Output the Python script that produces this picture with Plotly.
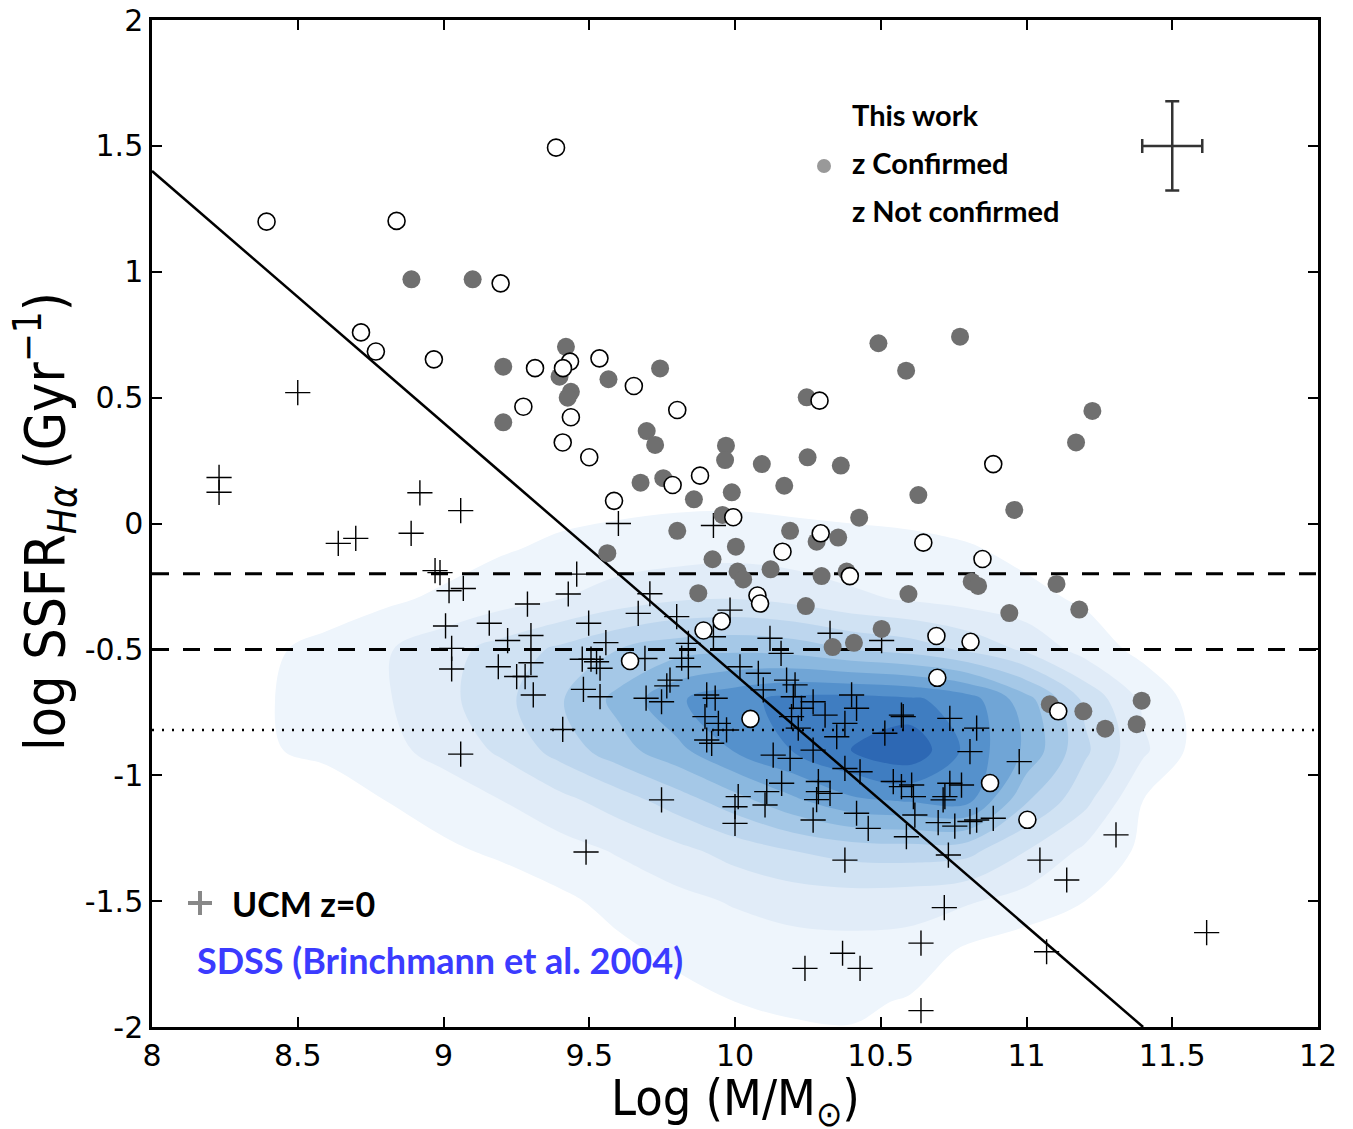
import plotly.graph_objects as go

# ---------------- data ----------------
# "This work" - redshift confirmed (filled grey circles)
conf_x = [8.89, 9.10, 9.205, 9.205, 9.42, 9.398, 9.437, 9.426, 9.566, 9.743,
          9.697, 9.726, 9.969, 9.966, 10.092, 10.249, 10.363, 10.246, 9.676, 9.754,
          9.859, 9.989, 10.169, 9.957, 9.802, 10.189, 10.280, 10.354, 10.003, 9.562,
          9.923, 10.122, 10.009, 10.028, 10.297, 10.383, 9.874, 10.492, 10.772, 10.587,
          11.226, 11.170, 10.629, 10.958, 10.426, 10.812, 10.834, 11.103, 10.243, 10.941,
          11.181, 10.503, 10.335, 10.408, 11.080, 11.195, 11.270, 11.378, 11.395, 10.595]
conf_y = [0.97, 0.97, 0.623, 0.402, 0.702, 0.583, 0.523, 0.500, 0.573, 0.616,
          0.367, 0.312, 0.309, 0.252, 0.236, 0.263, 0.230, 0.501, 0.162, 0.180,
          0.096, 0.124, 0.150, 0.034, -0.029, -0.029, -0.072, -0.056, -0.092, -0.118,
          -0.142, -0.182, -0.191, -0.222, -0.209, -0.191, -0.277, 0.716, 0.742, 0.607,
          0.447, 0.322, 0.113, 0.054, 0.023, -0.231, -0.248, -0.240, -0.328, -0.356,
          -0.342, -0.419, -0.491, -0.474, -0.718, -0.746, -0.815, -0.797, -0.704, -0.280]

# "This work" - redshift not confirmed (open circles)
nconf_x = [8.393, 8.839, 9.386, 9.196, 8.717, 8.768, 8.967, 9.314, 9.434, 9.41,
           9.535, 9.653, 9.274, 9.437, 9.409, 9.500, 9.802, 10.290, 9.786, 9.880,
           9.585, 9.994, 10.294, 10.163, 10.077, 10.086, 10.646, 10.849, 10.394, 10.886,
           9.954, 9.892, 10.691, 10.808, 10.694, 11.109, 10.053, 10.875, 11.003, 9.640]
nconf_y = [1.199, 1.202, 1.493, 0.954, 0.759, 0.683, 0.652, 0.617, 0.643, 0.617,
           0.656, 0.546, 0.464, 0.422, 0.322, 0.263, 0.451, 0.488, 0.153, 0.190,
           0.090, 0.025, -0.039, -0.112, -0.286, -0.318, -0.076, -0.141, -0.209, 0.236,
           -0.388, -0.425, -0.447, -0.470, -0.613, -0.746, -0.776, -1.031, -1.177, -0.546]

# UCM z=0 (crosses)
ucm_x = [8.500, 8.230, 8.230, 8.919, 9.059, 8.639, 8.699, 8.889, 8.971, 8.988,
         9.600, 9.926, 9.457, 9.019, 9.068, 9.428, 9.288, 9.708, 9.668, 9.800,
         9.983, 9.007, 9.157, 9.498, 9.300, 9.220, 9.557, 9.840, 9.926, 10.120,
         10.326, 10.503, 10.158, 9.028, 9.028, 9.188, 9.300, 9.251, 9.280, 9.308,
         9.476, 9.506, 9.525, 9.537, 9.480, 9.537, 9.691, 9.695, 9.409, 9.059,
         9.817, 9.840, 10.017, 10.080, 10.177, 10.206, 9.777, 9.766, 9.748, 9.903,
         9.932, 10.097, 10.200, 10.228, 10.268, 10.309, 10.400, 10.417, 9.897, 9.943,
         9.971, 9.903, 9.920, 10.194, 10.217, 10.377, 10.349, 10.268, 10.131, 10.189,
         10.514, 10.571, 10.577, 10.737, 10.829, 10.806, 10.975, 10.377, 10.429, 10.160,
         10.286, 10.286, 10.326, 10.280, 10.109, 10.103, 10.011, 10.000, 10.000, 9.748,
         10.543, 10.571, 10.606, 10.612, 10.720, 10.714, 10.737, 10.777, 10.268, 10.417,
         10.457, 10.617, 10.697, 10.754, 10.806, 10.829, 10.886, 10.588, 10.377, 10.732,
         11.046, 11.138, 11.307, 10.718, 10.638, 10.369, 10.429, 10.240, 11.069, 11.618,
         10.638, 9.489]
ucm_y = [0.520, 0.183, 0.124, 0.122, 0.051, -0.079, -0.059, -0.039, -0.187, -0.195,
         0.000, -0.008, -0.201, -0.267, -0.258, -0.280, -0.320, -0.279, -0.357, -0.370,
         -0.344, -0.407, -0.396, -0.396, -0.445, -0.465, -0.473, -0.476, -0.450, -0.456,
         -0.436, -0.465, -0.516, -0.496, -0.578, -0.569, -0.553, -0.608, -0.608, -0.681,
         -0.539, -0.539, -0.549, -0.575, -0.659, -0.688, -0.536, -0.694, -0.818, -0.916,
         -0.535, -0.569, -0.569, -0.595, -0.622, -0.641, -0.622, -0.645, -0.708, -0.681,
         -0.694, -0.661, -0.688, -0.734, -0.708, -0.761, -0.681, -0.734, -0.767, -0.794,
         -0.820, -0.860, -0.873, -0.767, -0.813, -0.794, -0.847, -0.900, -0.920, -0.933,
         -0.833, -0.761, -0.767, -0.774, -0.813, -0.906, -0.946, -0.973, -0.986, -1.032,
         -1.025, -1.065, -1.072, -1.097, -1.065, -1.118, -1.085, -1.125, -1.191, -1.098,
         -1.025, -1.045, -1.039, -1.085, -1.085, -1.098, -1.032, -1.039, -1.178, -1.151,
         -1.211, -1.158, -1.188, -1.202, -1.184, -1.178, -1.171, -1.244, -1.337, -1.317,
         -1.337, -1.416, -1.237, -1.526, -1.667, -1.707, -1.767, -1.767, -1.701, -1.625,
         -1.935, -1.305]

# SDSS density (contour level on a coarse grid)
sdss_x = [8.2, 8.4, 8.6, 8.8, 9.0, 9.2, 9.4, 9.6, 9.8, 10.0,
          10.2, 10.4, 10.6, 10.8, 11.0, 11.2, 11.4, 11.6, 11.8]
sdss_y = [-2.1, -1.9, -1.7, -1.5, -1.3, -1.1, -0.9, -0.7, -0.5, -0.3, -0.1, 0.1]
sdss_level = [
    [0, 0, 0, 0, 0, 0, 0, 0, 0.2, 0.5, 0.7, 0.75, 0.4, 0.1, 0, 0, 0, 0, 0],
    [0, 0, 0, 0, 0, 0, 0, 0.2, 0.7, 1.0, 1.15, 1.2, 0.9, 0.4, 0, 0, 0, 0, 0],
    [0, 0, 0, 0, 0, 0, 0.3, 0.8, 1.2, 1.4, 1.6, 1.65, 1.6, 0.8, 0.4, 0, 0, 0, 0],
    [0, 0, 0, 0, 0, 0.3, 0.8, 1.3, 1.7, 2.1, 2.4, 2.5, 2.4, 2.1, 1.6, 1.0, 0.4, 0, 0],
    [0, 0, 0, 0.3, 0.8, 1.2, 1.6, 2.1, 2.7, 3.4, 4.0, 4.4, 4.5, 4.3, 3.0, 1.8, 0.8, 0.2, 0],
    [0, 0, 0.3, 1.0, 1.5, 2.0, 2.7, 3.5, 4.5, 5.6, 6.8, 7.8, 8.1, 8.3, 5.1, 3.3, 1.0, 0.3, 0],
    [0.3, 0.9, 1.3, 1.75, 2.3, 3.2, 4.4, 5.6, 6.7, 8.1, 9.05, 10.05, 10.8, 8.7, 6.8, 4.2, 2.2, 0.5, 0],
    [0.3, 0.95, 1.4, 1.9, 2.7, 3.7, 4.9, 6.3, 7.85, 8.7, 9.3, 9.4, 9.2, 8.5, 6.4, 3.8, 1.8, 0.5, 0],
    [0.2, 0.8, 1.4, 1.9, 2.6, 3.4, 4.2, 5.0, 5.6, 5.8, 5.6, 5.0, 4.6, 3.8, 2.8, 1.6, 0.7, 0.2, 0],
    [0, 0, 0.3, 0.8, 1.2, 1.6, 2.0, 2.5, 2.9, 3.0, 2.7, 2.2, 1.9, 1.6, 1.3, 0.85, 0.1, 0, 0],
    [0, 0, 0, 0.2, 0.5, 0.9, 1.2, 1.4, 1.5, 1.6, 1.5, 1.4, 1.3, 1.1, 0.7, 0.3, 0, 0, 0],
    [0, 0, 0, 0, 0, 0.3, 0.6, 0.7, 0.8, 0.8, 0.7, 0.6, 0.5, 0.3, 0, 0, 0, 0, 0],
]

# reference lines
diag_x = [8.0, 11.4]
diag_y = [1.4, -2.0]
dashed_levels = [-0.2, -0.5]
dotted_level = -0.82
line_span = [8.0, 12.0]

# typical error bar
err_x = [11.5]
err_y = [1.5]
err_dx = [0.103]
err_dy = [0.177]

x_tickvals = [8, 8.5, 9, 9.5, 10, 10.5, 11, 11.5, 12]
x_ticktext = ["8", "8.5", "9", "9.5", "10", "10.5", "11", "11.5", "12"]
y_tickvals = [2, 1.5, 1, 0.5, 0, -0.5, -1, -1.5, -2]
y_ticktext = ["2", "1.5", "1", "0.5", "0", "-0.5", "-1", "-1.5", "-2"]

# ---------------- styling ----------------
OFF = 8                      # default page (body) margin of the html file
W, H = 1353 - OFF, 1129 - OFF
# plot area in page pixels: left 152, right 1318, top 20, bottom 1027
ML, MR, MT, MB = 152 - OFF, 35, 20 - OFF, 102
PW, PH = W - ML - MR, H - MT - MB


def px(xp):  # page pixel -> paper x
    return (xp - OFF - ML) / PW


def py(yp):  # page pixel -> paper y
    return 1 - (yp - OFF - MT) / PH


band_colors = ["rgba(255,255,255,0)", "#eef5fc", "#e1ecf8", "#d0e2f3", "#bdd6ee",
               "#a5c8e7", "#8bb8df", "#70a5d6", "#5591cc", "#3f7dc1", "#2d68b4"]
nb = len(band_colors)
colorscale = []
for k, c in enumerate(band_colors):
    colorscale.append([k / nb, c])
    colorscale.append([(k + 1) / nb, c])

fig = go.Figure()

fig.add_trace(go.Contour(
    x=sdss_x, y=sdss_y, z=sdss_level,
    zmin=0, zmax=nb, autocontour=False,
    contours=dict(start=1, end=10, size=1, coloring="fill", showlines=False),
    line=dict(width=0, smoothing=1.0),
    colorscale=colorscale, showscale=False, hoverinfo="skip",
))

fig.add_trace(go.Scatter(x=diag_x, y=diag_y, mode="lines",
                         line=dict(color="black", width=2.5), showlegend=False))
for lv in dashed_levels:
    fig.add_trace(go.Scatter(x=line_span, y=[lv, lv], mode="lines",
                             line=dict(color="black", width=3, dash="17px,14px"),
                             showlegend=False))
fig.add_trace(go.Scatter(x=line_span, y=[dotted_level, dotted_level], mode="lines",
                         line=dict(color="black", width=2.5, dash="2px,8px"),
                         showlegend=False))

fig.add_trace(go.Scatter(x=ucm_x, y=ucm_y, mode="markers", showlegend=False,
                         marker=dict(symbol="cross-thin", size=18,
                                     line=dict(color="black", width=1.4))))
fig.add_trace(go.Scatter(x=conf_x, y=conf_y, mode="markers", showlegend=False,
                         marker=dict(symbol="circle", size=18, color="#6f6f6f",
                                     line=dict(width=0))))
fig.add_trace(go.Scatter(x=nconf_x, y=nconf_y, mode="markers", showlegend=False,
                         marker=dict(symbol="circle", size=17, color="white",
                                     line=dict(color="black", width=1.6))))

fig.add_trace(go.Scatter(
    x=err_x, y=err_y, mode="markers", showlegend=False,
    marker=dict(size=1, color="rgba(0,0,0,0)"),
    error_x=dict(type="data", array=err_dx, color="#333333", thickness=2.5, width=7),
    error_y=dict(type="data", array=err_dy, color="#333333", thickness=2.5, width=7),
))

FAM = "Comic Sans MS, Lato, DejaVu Sans"
legend_font = dict(family=FAM, size=29, color="black")
ann = [
    dict(x=px(850), y=py(115), text="<b>This work</b>", font=legend_font),
    dict(x=px(850), y=py(163), text="<b>z Confirmed</b>", font=legend_font),
    dict(x=px(850), y=py(211), text="<b>z Not confirmed</b>", font=legend_font),
    dict(x=px(230), y=py(903), text="<b>UCM z=0</b>",
         font=dict(family=FAM, size=34, color="black")),
    dict(x=px(195), y=py(960), text="<b>SDSS (Brinchmann et al. 2004)</b>",
         font=dict(family=FAM, size=36, color="#3b3bff")),
]
annotations = []
for a in ann:
    a.update(xref="paper", yref="paper", xanchor="left", yanchor="middle", showarrow=False)
    annotations.append(a)

title_font = dict(family="DejaVu Sans Condensed, DejaVu Sans", color="black")
annotations.append(dict(
    xref="paper", yref="paper", x=px(45), y=py(522), textangle=-90,
    text="log SSFR<sub><i>Hα</i></sub> (Gyr<sup>−1</sup>)", showarrow=False,
    xanchor="center", yanchor="middle", font=dict(size=55, **title_font)))
annotations.append(dict(
    xref="paper", yref="paper", x=px(735), y=py(1101),
    text="Log (M/M<sub>⊙</sub>)", showarrow=False,
    xanchor="center", yanchor="middle", font=dict(size=50, **title_font)))

shapes = [
    dict(type="circle", xref="paper", yref="paper",
         x0=px(817), x1=px(831), y0=py(173), y1=py(159),
         fillcolor="#999999", line=dict(width=0)),
    dict(type="line", xref="paper", yref="paper", x0=px(188), x1=px(212),
         y0=py(903), y1=py(903), line=dict(color="#888888", width=4)),
    dict(type="line", xref="paper", yref="paper", x0=px(200), x1=px(200),
         y0=py(891), y1=py(915), line=dict(color="#888888", width=4)),
]

axis_common = dict(showline=True, linecolor="black", linewidth=2.5, mirror="ticks",
                   ticks="inside", ticklen=10, tickwidth=1.5, tickcolor="black",
                   showgrid=False, zeroline=False, ticklabeloverflow="allow",
                   automargin=False,
                   tickfont=dict(family="DejaVu Sans", size=30, color="black"))

fig.update_layout(
    width=W, height=H,
    margin=dict(l=ML, r=MR, t=MT, b=MB, autoexpand=False),
    paper_bgcolor="white", plot_bgcolor="white",
    showlegend=False,
    xaxis=dict(range=[8, 12], tickvals=x_tickvals, ticktext=x_ticktext, **axis_common),
    yaxis=dict(range=[-2, 2], tickvals=y_tickvals, ticktext=y_ticktext, **axis_common),
    annotations=annotations, shapes=shapes,
)

fig.write_html("out.html")
